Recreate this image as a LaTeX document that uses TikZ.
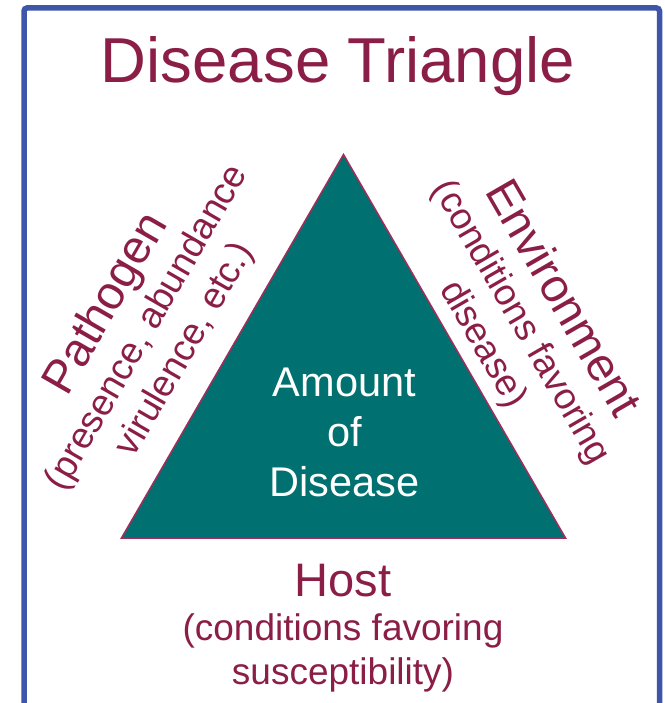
\documentclass[tikz,border=0pt]{standalone}
\usepackage{fontspec}
\setmainfont{Liberation Sans}
\usepackage{xcolor}
\usepackage{tikz}
\usetikzlibrary{positioning}

\definecolor{framecol}{RGB}{63,85,170}
\definecolor{maroontext}{RGB}{139,30,70}
\definecolor{edgecol}{RGB}{160,45,90}
\definecolor{tealfill}{RGB}{0,112,112}

\begin{document}
\begin{tikzpicture}[x=1pt, y=-1pt,
    headline/.style={font=\fontsize{63.5}{76}\selectfont, text=maroontext, inner sep=0pt},
    sidelabel/.style={align=center, text=maroontext, inner sep=0pt, font=\fontsize{37}{44}\selectfont},
    coretext/.style={align=center, text=white, inner sep=0pt, font=\fontsize{41.5}{50}\selectfont}
]
\useasboundingbox (0,0) rectangle (664,703);
\clip (0,0) rectangle (664,703);

% frame, open at the bottom
\draw[framecol, line width=5.5pt, rounded corners=3pt] (24,8) rectangle (659.5,760);

\node[headline, anchor=base] (title) at (338,83) {Disease Triangle};

% the triangle
\coordinate (apex) at (343.5,154.5);
\coordinate (lcorner) at (121.5,538);
\coordinate (rcorner) at (565.5,538);
\draw[edgecol, fill=tealfill, line width=1.5pt] (apex) -- (lcorner) -- (rcorner) -- cycle;

\node[coretext] (amount) at (344.5,432) {Amount\\of\\Disease};

\node[sidelabel, rotate=60] (pathogen) at (144.5,326) {{\fontsize{47}{56}\selectfont Pathogen}\\(presence, abundance\\virulence, etc.)};
\node[sidelabel, rotate=-60] (environment) at (523.5,321) {{\fontsize{47}{56}\selectfont Environment}\\(conditions favoring\\disease)};
\node[sidelabel] (host) at (343,628) {{\fontsize{47}{56}\selectfont Host}\\(conditions favoring\\susceptibility)};

\end{tikzpicture}
\end{document}
